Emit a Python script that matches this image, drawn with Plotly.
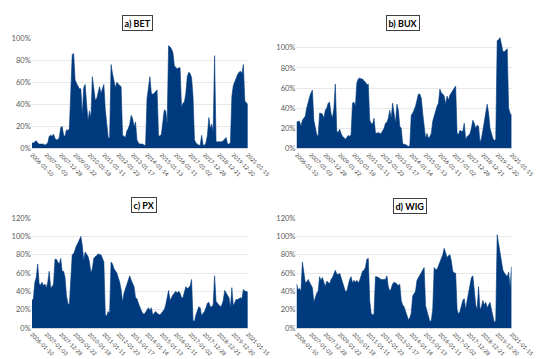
import plotly.graph_objects as go

tick_labels = ["2006-01-10", "2007-01-03", "2007-12-28", "2009-01-22", "2010-01-18",
               "2011-01-11", "2012-01-23", "2013-01-17", "2014-01-14", "2015-01-13",
               "2016-01-11", "2017-01-02", "2017-12-28", "2018-12-21", "2019-12-20",
               "2021-01-15"]

# values (%) sampled every 0.1 of a label interval (151 observations)
bet = [5, 5, 6, 7, 5, 4, 4, 4, 4, 3, 4, 5, 11, 12, 11, 13, 9, 8, 8, 10,
       19, 20, 12, 11, 17, 16, 18, 45, 85, 86, 62, 59, 57, 54, 54, 30, 55, 58, 40, 25,
       34, 28, 65, 52, 44, 45, 52, 56, 50, 55, 58, 35, 25, 10, 9, 76, 68, 62, 55, 60,
       58, 57, 56, 12, 11, 10, 16, 18, 22, 30, 27, 20, 24, 8, 5, 4, 4, 4, 3, 3,
       45, 55, 65, 50, 49, 50, 52, 53, 12, 11, 13, 22, 35, 34, 22, 93, 92, 90, 87, 75,
       73, 72, 73, 73, 37, 41, 42, 50, 65, 69, 68, 64, 47, 8, 5, 4, 3, 3, 12, 3,
       3, 5, 12, 28, 18, 22, 15, 84, 6, 6, 6, 6, 6, 7, 9, 10, 4, 4, 5, 47,
       57, 61, 64, 67, 69, 70, 68, 76, 43, 41, 40]

bux = [26, 27, 27, 22, 28, 30, 32, 40, 47, 51, 55, 58, 28, 20, 14, 12, 35, 35, 34, 30,
       38, 40, 45, 46, 35, 30, 40, 64, 17, 16, 19, 15, 12, 11, 9, 11, 13, 12, 14, 45,
       46, 42, 65, 69, 70, 69, 69, 67, 66, 63, 64, 28, 25, 24, 30, 16, 15, 16, 15, 15,
       17, 20, 25, 26, 30, 38, 30, 45, 35, 25, 44, 38, 22, 20, 5, 4, 4, 3, 2, 3,
       33, 35, 38, 42, 48, 54, 54, 50, 35, 22, 10, 15, 10, 12, 15, 27, 33, 38, 42, 45,
       59, 55, 54, 52, 44, 52, 48, 53, 55, 57, 59, 62, 15, 14, 18, 17, 17, 25, 9, 12,
       13, 15, 20, 28, 25, 20, 23, 22, 6, 10, 18, 28, 35, 44, 35, 20, 15, 10, 8, 9,
       107, 108, 110, 103, 96, 96, 98, 99, 40, 35, 33]

px_ = [30, 32, 50, 55, 70, 48, 47, 50, 46, 48, 44, 50, 62, 44, 45, 48, 75, 75, 72, 70,
       76, 62, 62, 55, 35, 27, 25, 48, 80, 81, 86, 90, 93, 96, 100, 90, 74, 83, 80, 78,
       72, 60, 65, 76, 78, 79, 81, 80, 80, 76, 72, 14, 13, 18, 16, 72, 70, 65, 62, 60,
       55, 50, 42, 28, 38, 43, 48, 52, 57, 52, 48, 45, 33, 32, 27, 22, 19, 16, 15, 17,
       20, 22, 19, 22, 14, 16, 18, 16, 15, 14, 16, 18, 20, 25, 32, 41, 30, 34, 36, 38,
       40, 38, 40, 38, 33, 33, 40, 45, 43, 44, 46, 53, 8, 7, 14, 20, 23, 22, 13, 16,
       18, 22, 27, 28, 23, 23, 25, 57, 29, 27, 25, 23, 25, 30, 41, 38, 36, 33, 22, 44,
       24, 28, 31, 31, 32, 33, 32, 42, 40, 40, 39]

wig = [48, 42, 43, 40, 72, 63, 50, 50, 53, 50, 47, 44, 28, 33, 38, 40, 56, 52, 55, 50,
       45, 51, 50, 48, 53, 55, 60, 63, 59, 58, 60, 55, 50, 45, 40, 40, 48, 53, 56, 49,
       52, 50, 52, 49, 52, 58, 62, 63, 66, 75, 76, 30, 16, 14, 15, 56, 56, 55, 54, 53,
       53, 53, 53, 57, 45, 40, 43, 48, 50, 49, 48, 46, 48, 30, 25, 23, 18, 12, 9, 11,
       16, 35, 38, 40, 52, 55, 58, 61, 64, 66, 24, 18, 10, 7, 8, 20, 66, 64, 64, 68,
       70, 75, 80, 87, 83, 77, 79, 80, 73, 62, 60, 60, 20, 15, 18, 25, 30, 32, 20, 30,
       38, 48, 55, 57, 42, 25, 20, 45, 20, 23, 30, 25, 28, 22, 25, 28, 20, 12, 6, 8,
       102, 92, 83, 70, 63, 60, 58, 56, 61, 44, 67]

panels = [
    ("a) BET", bet, [0, 1.0], [0, 0.2, 0.4, 0.6, 0.8, 1.0]),
    ("b) BUX", bux, [0, 1.12], [0, 0.2, 0.4, 0.6, 0.8, 1.0]),
    ("c) PX", px_, [0, 1.2], [0, 0.2, 0.4, 0.6, 0.8, 1.0, 1.2]),
    ("d) WIG", wig, [0, 1.2], [0, 0.2, 0.4, 0.6, 0.8, 1.0, 1.2]),
]

W, H = 550, 359
xdoms = [[22.7 / W, 249.3 / W], [300 / W, 525.7 / W], [22.7 / W, 249.3 / W], [300 / W, 525.7 / W]]
ydoms = [[1 - 140 / H, 1 - 26.7 / H], [1 - 140 / H, 1 - 24.3 / H],
         [1 - 324 / H, 1 - 211.5 / H], [1 - 324 / H, 1 - 211.5 / H]]
title_pos = [(134 / W, 1 - 11.5 / H), (412 / W, 1 - 11.5 / H),
             (140 / W, 1 - 198 / H), (419 / W, 1 - 199 / H)]

BLUE = "#003A7E"
fig = go.Figure()
layout = dict(width=W, height=H, margin=dict(l=0, r=0, t=0, b=0),
              paper_bgcolor="white", plot_bgcolor="white", showlegend=False,
              font=dict(family="Lato, Liberation Sans, sans-serif", color="#595959"))
annotations = []
n = len(bet)
xs = [i / 10 for i in range(n)]
for k, (title, vals, yr, yt) in enumerate(panels):
    suffix = "" if k == 0 else str(k + 1)
    fig.add_trace(go.Scatter(x=xs, y=[v / 100 for v in vals], mode="lines",
                             fill="tozeroy", fillcolor=BLUE,
                             line=dict(color=BLUE, width=0.6),
                             xaxis="x" + suffix, yaxis="y" + suffix,
                             hoverinfo="skip"))
    layout["xaxis" + suffix] = dict(domain=xdoms[k], range=[-0.02, 15.02],
                                    anchor="y" + suffix, tickmode="array",
                                    tickvals=list(range(len(tick_labels))),
                                    ticktext=tick_labels, tickangle=45,
                                    tickfont=dict(size=5.6, color="#404040"),
                                    showgrid=False, zeroline=False,
                                    showline=True, linecolor="#d9d9d9", linewidth=1,
                                    ticks="", fixedrange=True)
    layout["yaxis" + suffix] = dict(domain=ydoms[k], range=yr, anchor="x" + suffix,
                                    tickmode="array", tickvals=yt,
                                    ticktext=[f"{int(round(v * 100))}%" for v in yt],
                                    tickfont=dict(size=7.5, color="#595959"),
                                    showgrid=True, gridcolor="#e8e8e8", gridwidth=1,
                                    zeroline=False, showline=False, ticks="",
                                    fixedrange=True)
    annotations.append(dict(text=f"<b>{title}</b>", x=title_pos[k][0], y=title_pos[k][1],
                            xref="paper", yref="paper", showarrow=False,
                            xanchor="center", yanchor="middle",
                            font=dict(size=9, color="#000000",
                                      family="Lato, Liberation Sans, sans-serif"),
                            bgcolor="white", bordercolor="#404040", borderwidth=1,
                            borderpad=1.5))
layout["annotations"] = annotations
fig.update_layout(**layout)
fig.write_html("out.html")
